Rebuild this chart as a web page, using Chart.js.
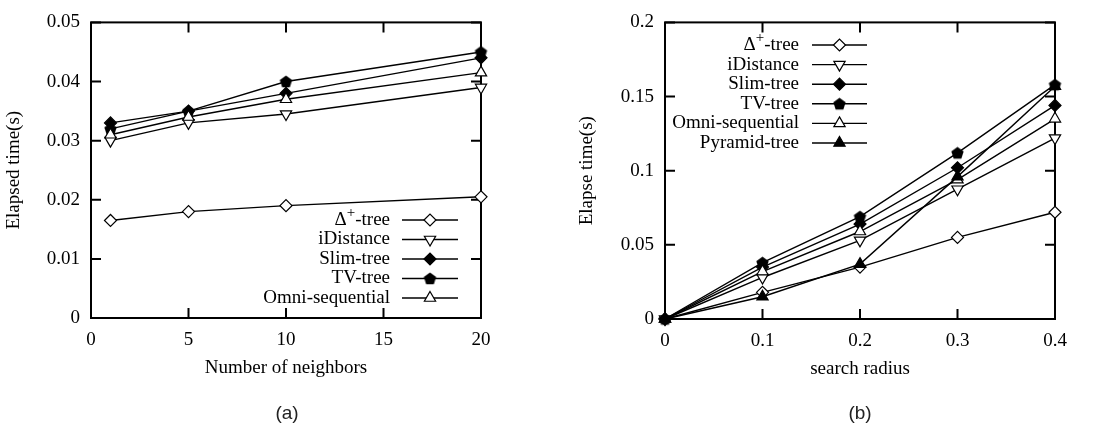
<!DOCTYPE html>
<html>
<head>
<meta charset="utf-8">
<script src="https://cdn.jsdelivr.net/npm/chart.js@4.4.1/dist/chart.umd.min.js"></script>
<style>
  html, body { margin: 0; padding: 0; background: #fff; }
  body { width: 1099px; height: 432px; position: relative; overflow: hidden; }
  .wrap { position: absolute; top: 0; width: 549px; height: 432px; }
  #wa { left: 0; }
  #wb { left: 550px; }
  .cap { position: absolute; top: 402px; width: 60px; text-align: center;
         font-family: "Liberation Sans", Arial, sans-serif; font-size: 19px; color: #222; }
</style>
</head>
<body>
<div class="wrap" id="wa"><canvas id="ca" width="549" height="432"></canvas></div>
<div class="wrap" id="wb"><canvas id="cb" width="549" height="432"></canvas></div>
<div class="cap" style="left:257px">(a)</div>
<div class="cap" style="left:830px">(b)</div>
<script>
// ---------- data: chart (a) ----------
const neighbors = [1, 5, 10, 20];
const aDeltaTree = [0.0165, 0.018, 0.019, 0.0205];
const aIDistance = [0.030, 0.033, 0.0345, 0.039];
const aSlimTree  = [0.033, 0.035, 0.038, 0.044];
const aTVTree    = [0.032, 0.035, 0.040, 0.045];
const aOmniSeq   = [0.031, 0.034, 0.037, 0.0415];
const aXTicks = [0, 5, 10, 15, 20];
const aYTicks = [0, 0.01, 0.02, 0.03, 0.04, 0.05];

// ---------- data: chart (b) ----------
const radius = [0, 0.1, 0.2, 0.3, 0.4];
const bDeltaTree   = [0, 0.018, 0.035, 0.055, 0.072];
const bIDistance   = [0, 0.028, 0.053, 0.0875, 0.122];
const bSlimTree    = [0, 0.035, 0.064, 0.102, 0.144];
const bTVTree      = [0, 0.038, 0.069, 0.112, 0.158];
const bOmniSeq     = [0, 0.032, 0.059, 0.094, 0.135];
const bPyramidTree = [0, 0.015, 0.037, 0.096, 0.157];
const bXTicks = [0, 0.1, 0.2, 0.3, 0.4];
const bYTicks = [0, 0.05, 0.1, 0.15, 0.2];

const SERIF = "'Liberation Serif', 'Times New Roman', serif";
const FONT = { family: SERIF, size: 19 };

function pentagonImage(r) {
  const s = Math.ceil(r * 2 + 2);
  const c = document.createElement('canvas');
  c.width = s; c.height = s;
  const g = c.getContext('2d');
  g.beginPath();
  for (let i = 0; i < 5; i++) {
    const a = -Math.PI / 2 + i * 2 * Math.PI / 5;
    const px = s / 2 + r * Math.cos(a), py = s / 2 + 0.6 + r * Math.sin(a);
    if (i === 0) g.moveTo(px, py); else g.lineTo(px, py);
  }
  g.closePath();
  g.fillStyle = '#000'; g.fill();
  return c;
}
const PENT = pentagonImage(6.5);

const STYLES = {
  delta:   { pointStyle: 'rectRot',  rotation: 0,   fill: '#fff', radius: 6 },
  idist:   { pointStyle: 'triangle', rotation: 180, fill: '#fff', radius: 6.5 },
  slim:    { pointStyle: 'rectRot',  rotation: 0,   fill: '#000', radius: 6 },
  tv:      { pointStyle: PENT,       rotation: 0,   fill: '#000', radius: 6.5 },
  omni:    { pointStyle: 'triangle', rotation: 0,   fill: '#fff', radius: 6.5 },
  pyramid: { pointStyle: 'triangle', rotation: 0,   fill: '#000', radius: 6.5 }
};

let dsCount = 0;
function ds(label, xs, ys, key) {
  const st = STYLES[key];
  return {
    label: label,
    data: xs.map((x, i) => ({ x: x, y: ys[i] })),
    order: -(dsCount++),
    borderColor: '#000',
    borderWidth: 1.4,
    pointStyle: st.pointStyle,
    rotation: st.rotation,
    pointRadius: st.radius,
    pointHoverRadius: st.radius,
    pointBackgroundColor: st.fill,
    pointBorderColor: '#000',
    pointBorderWidth: 1.2,
    fill: false,
    clip: false,
    tension: 0
  };
}

// frame with inward ticks on all four sides (gnuplot style)
const framePlugin = {
  id: 'frame',
  beforeDatasetsDraw(chart) {
    const { ctx, chartArea: a, scales: { x, y } } = chart;
    const L = 10;
    ctx.save();
    ctx.strokeStyle = '#000';
    ctx.lineWidth = 2;
    ctx.beginPath();
    x.ticks.forEach(t => {
      const px = x.getPixelForValue(t.value);
      ctx.moveTo(px, a.bottom); ctx.lineTo(px, a.bottom - L);
      ctx.moveTo(px, a.top); ctx.lineTo(px, a.top + L);
    });
    y.ticks.forEach(t => {
      const py = y.getPixelForValue(t.value);
      ctx.moveTo(a.left, py); ctx.lineTo(a.left + L, py);
      ctx.moveTo(a.right, py); ctx.lineTo(a.right - L, py);
    });
    ctx.stroke();
    ctx.strokeRect(a.left, a.top, a.right - a.left, a.bottom - a.top);
    ctx.restore();
  }
};

// gnuplot-style key: text right-aligned, then a line sample with the marker in the middle
const keyPlugin = {
  id: 'gkey',
  afterDatasetsDraw(chart, args, opts) {
    const { ctx } = chart;
    const main = `${FONT.size}px ${SERIF}`;
    const sup = `15px ${SERIF}`;
    ctx.save();
    ctx.textBaseline = 'middle';
    chart.data.datasets.forEach((d, i) => {
      const yy = opts.top + i * opts.step;
      ctx.fillStyle = '#000';
      ctx.font = main;
      const label = d.label;
      if (label.startsWith('Δ+')) {
        const rest = label.slice(2);
        const wD = ctx.measureText('Δ').width;
        const wR = ctx.measureText(rest).width;
        ctx.font = sup;
        const wS = ctx.measureText('+').width;
        const x0 = opts.textRight - (wD + wS + wR);
        ctx.textAlign = 'left';
        ctx.font = main;
        ctx.fillText('Δ', x0, yy);
        ctx.font = sup;
        ctx.fillText('+', x0 + wD, yy - 7);
        ctx.font = main;
        ctx.fillText(rest, x0 + wD + wS, yy);
      } else {
        ctx.textAlign = 'right';
        ctx.fillText(label, opts.textRight, yy);
      }
      ctx.strokeStyle = '#000';
      ctx.lineWidth = 1.4;
      ctx.beginPath();
      ctx.moveTo(opts.lineStart, yy); ctx.lineTo(opts.lineEnd, yy);
      ctx.stroke();
      ctx.fillStyle = d.pointBackgroundColor;
      ctx.lineWidth = d.pointBorderWidth;
      Chart.helpers.drawPoint(ctx, {
        pointStyle: d.pointStyle, rotation: d.rotation,
        radius: d.pointRadius, borderWidth: d.pointBorderWidth
      }, (opts.lineStart + opts.lineEnd) / 2, yy);
    });
    ctx.restore();
  }
};

function makeOptions(cfg) {
  return {
    responsive: false,
    animation: false,
    events: [],
    layout: { padding: cfg.padding },
    plugins: {
      legend: { display: false },
      tooltip: { enabled: false },
      gkey: cfg.key
    },
    scales: {
      x: {
        type: 'linear', min: cfg.xTicks[0], max: cfg.xTicks[cfg.xTicks.length - 1],
        afterBuildTicks: s => { s.ticks = cfg.xTicks.map(v => ({ value: v })); },
        afterFit: s => { s.height = 61; },
        grid: { display: false, drawTicks: false },
        border: { display: false },
        ticks: { font: FONT, color: '#000', padding: 11, maxRotation: 0, autoSkip: false,
                 callback: v => String(v) },
        title: { display: true, text: cfg.xTitle, font: FONT, color: '#000',
                 padding: { top: 0, bottom: 0 } }
      },
      y: {
        type: 'linear', min: cfg.yTicks[0], max: cfg.yTicks[cfg.yTicks.length - 1],
        afterBuildTicks: s => { s.ticks = cfg.yTicks.map(v => ({ value: v })); },
        afterFit: s => { s.width = cfg.yWidth; },
        grid: { display: false, drawTicks: false },
        border: { display: false },
        ticks: { font: FONT, color: '#000', padding: 11, autoSkip: false,
                 callback: v => String(v) },
        title: { display: true, text: cfg.yTitle, font: FONT, color: '#000',
                 padding: { top: cfg.yTitlePad, bottom: 0 } }
      }
    }
  };
}

new Chart(document.getElementById('ca'), {
  type: 'line',
  data: {
    datasets: [
      ds('Δ+-tree', neighbors, aDeltaTree, 'delta'),
      ds('iDistance', neighbors, aIDistance, 'idist'),
      ds('Slim-tree', neighbors, aSlimTree, 'slim'),
      ds('TV-tree', neighbors, aTVTree, 'tv'),
      ds('Omni-sequential', neighbors, aOmniSeq, 'omni')
    ]
  },
  options: makeOptions({
    padding: { left: 0, top: 13, right: 68, bottom: 53 },
    xTicks: aXTicks, yTicks: aYTicks, yWidth: 91, yTitlePad: 3,
    xTitle: 'Number of neighbors', yTitle: 'Elapsed time(s)',
    key: { textRight: 390, lineStart: 402, lineEnd: 458, top: 220, step: 19.5 }
  }),
  plugins: [framePlugin, keyPlugin]
});

dsCount = 0;
new Chart(document.getElementById('cb'), {
  type: 'line',
  data: {
    datasets: [
      ds('Δ+-tree', radius, bDeltaTree, 'delta'),
      ds('iDistance', radius, bIDistance, 'idist'),
      ds('Slim-tree', radius, bSlimTree, 'slim'),
      ds('TV-tree', radius, bTVTree, 'tv'),
      ds('Omni-sequential', radius, bOmniSeq, 'omni'),
      ds('Pyramid-tree', radius, bPyramidTree, 'pyramid')
    ]
  },
  options: makeOptions({
    padding: { left: 0, top: 13, right: 44, bottom: 52 },
    xTicks: bXTicks, yTicks: bYTicks, yWidth: 115, yTitlePad: 26,
    xTitle: 'search radius', yTitle: 'Elapse time(s)',
    key: { textRight: 249, lineStart: 262, lineEnd: 317, top: 45, step: 19.6 }
  }),
  plugins: [framePlugin, keyPlugin]
});
</script>
</body>
</html>
